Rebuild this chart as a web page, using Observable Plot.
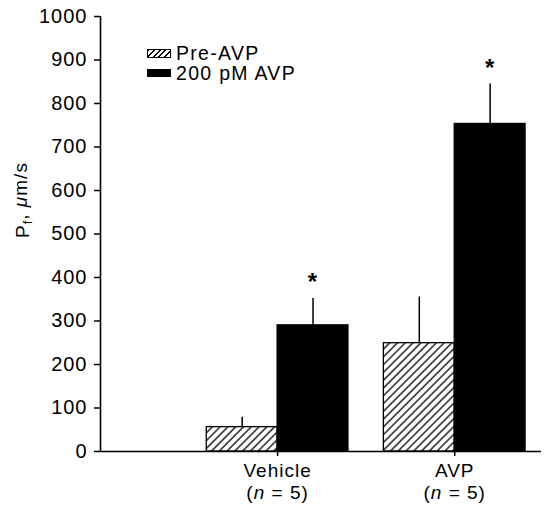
<!DOCTYPE html>
<html><head><meta charset="utf-8">
<script src="https://cdn.jsdelivr.net/npm/d3@7"></script>
<script src="https://cdn.jsdelivr.net/npm/@observablehq/plot@0.6"></script>
<style>
body{margin:0;background:#fff;}
#wrap{position:relative;width:544px;height:506px;font-family:"Liberation Sans",Arial,Helvetica,sans-serif;}
#wrap svg text{letter-spacing:1px;}
.lg{position:absolute;left:147px;font-size:19.5px;letter-spacing:1.3px;display:flex;align-items:center;white-space:nowrap;color:#000;line-height:20px;}
.sw{width:24px;height:9px;box-sizing:border-box;margin-right:5px;}
.hatch{border:1.3px solid #000;background:repeating-linear-gradient(135deg,#000 0 1.3px,#fff 1.3px 4px);}
.solid{background:#000;height:8px;}
</style>
</head><body><div id="wrap"></div>
<script>
// ---- data ----
const categories = ["Vehicle", "AVP"];
const seriesNames = ["Pre-AVP", "200 pM AVP"];
const preMean = [56, 249];
const preSem = [23, 106];
const avpMean = [290, 753];
const avpSem = [62, 92];
const nValues = [5, 5];
const avpSignificant = [true, true];
const yTicks = [0, 100, 200, 300, 400, 500, 600, 700, 800, 900, 1000];

const rows = [];
categories.forEach((c, i) => {
  rows.push({cat: c, pos: i + 1, side: -1, series: seriesNames[0], mean: preMean[i], sem: preSem[i], sig: false});
  rows.push({cat: c, pos: i + 1, side: 1, series: seriesNames[1], mean: avpMean[i], sem: avpSem[i], sig: avpSignificant[i]});
});
const W = 0.4;
const x1 = d => d.side < 0 ? d.pos - W : d.pos;
const x2 = d => d.side < 0 ? d.pos : d.pos + W;
const xc = d => d.pos + d.side * W / 2;
const FONT = '"Liberation Sans", Arial, Helvetica, sans-serif';
const FS = 19;

const chart = Plot.plot({
  width: 544, height: 506,
  marginLeft: 100, marginRight: 3, marginTop: 16, marginBottom: 55,
  style: {fontFamily: FONT, fontSize: "19px", background: "white", color: "black"},
  x: {domain: [0, 2.49], axis: null},
  y: {domain: [0, 1000], axis: null},
  marks: [
    Plot.rect(rows, {x1, x2, y1: 0, y2: "mean", fill: d => d.side < 0 ? "url(#hatch)" : "black", stroke: "black", strokeWidth: 1.3}),
    Plot.ruleX(rows, {x: xc, y1: "mean", y2: d => d.mean + d.sem, strokeWidth: 1.5}),
    Plot.text(rows.filter(d => d.sig), {x: xc, y: d => d.mean + d.sem, text: () => "*", dy: -8, fontWeight: "bold", fontSize: 24, lineAnchor: "bottom"}),
    Plot.ruleY([0], {strokeWidth: 1.6}),
    Plot.ruleX([0], {strokeWidth: 1.6}),
    Plot.axisY({ticks: yTicks, tickSize: 6, tickPadding: 7, tickFormat: d => String(d), label: null, strokeWidth: 1.5, fontSize: 20}),
    Plot.axisX({ticks: categories.map((c, i) => i + 1), tickSize: 5, tickFormat: () => "", label: null, strokeWidth: 1.5}),
    Plot.text(categories, {x: (d, i) => i + 1, y: () => 0, dy: 12, lineAnchor: "top", text: d => d, fontSize: FS}),
    Plot.text(nValues, {x: (d, i) => i + 1, y: () => 0, dy: 34, lineAnchor: "top", text: d => `(n = ${d})`, ariaLabel: () => "nlab", fontSize: FS}),
    Plot.text(["Pf, μm/s"], {frameAnchor: "left", dx: -78, dy: 4, rotate: -90, text: d => d, ariaLabel: () => "ylab", fontSize: FS})
  ]
});

// hatch pattern
const svg = d3.select(chart);
const defs = svg.insert("defs", ":first-child");
const pat = defs.append("pattern").attr("id", "hatch").attr("patternUnits", "userSpaceOnUse")
  .attr("width", 5.5).attr("height", 5.5).attr("patternTransform", "rotate(45)");
pat.append("rect").attr("width", 5.5).attr("height", 5.5).attr("fill", "white");
pat.append("line").attr("x1", 1).attr("y1", 0).attr("x2", 1).attr("y2", 5.5).attr("stroke", "black").attr("stroke-width", 1.3);

// italic n
svg.selectAll('text[aria-label="nlab"]').each(function(d, i) {
  const t = d3.select(this);
  const v = nValues[i] ?? 5;
  t.text(null);
  t.append("tspan").text("(");
  t.append("tspan").attr("font-style", "italic").text("n");
  t.append("tspan").text(` = ${v})`);
});
// subscript in y label
svg.selectAll('text[aria-label="ylab"]').each(function() {
  const t = d3.select(this);
  t.text(null);
  t.append("tspan").text("P");
  t.append("tspan").attr("font-size", "13px").attr("dy", "0.3em").text("f");
  t.append("tspan").attr("dy", "-0.3em").text(", ");
  t.append("tspan").attr("font-style", "italic").text("μ");
  t.append("tspan").text("m/s");
});

const wrap = document.getElementById("wrap");
wrap.appendChild(chart);
const l1 = document.createElement("div");
l1.className = "lg"; l1.style.top = "43px";
l1.innerHTML = `<span class="sw hatch"></span><span>${seriesNames[0]}</span>`;
const l2 = document.createElement("div");
l2.className = "lg"; l2.style.top = "63px";
l2.innerHTML = `<span class="sw solid"></span><span>${seriesNames[1]}</span>`;
wrap.appendChild(l1); wrap.appendChild(l2);
</script>
</body></html>
